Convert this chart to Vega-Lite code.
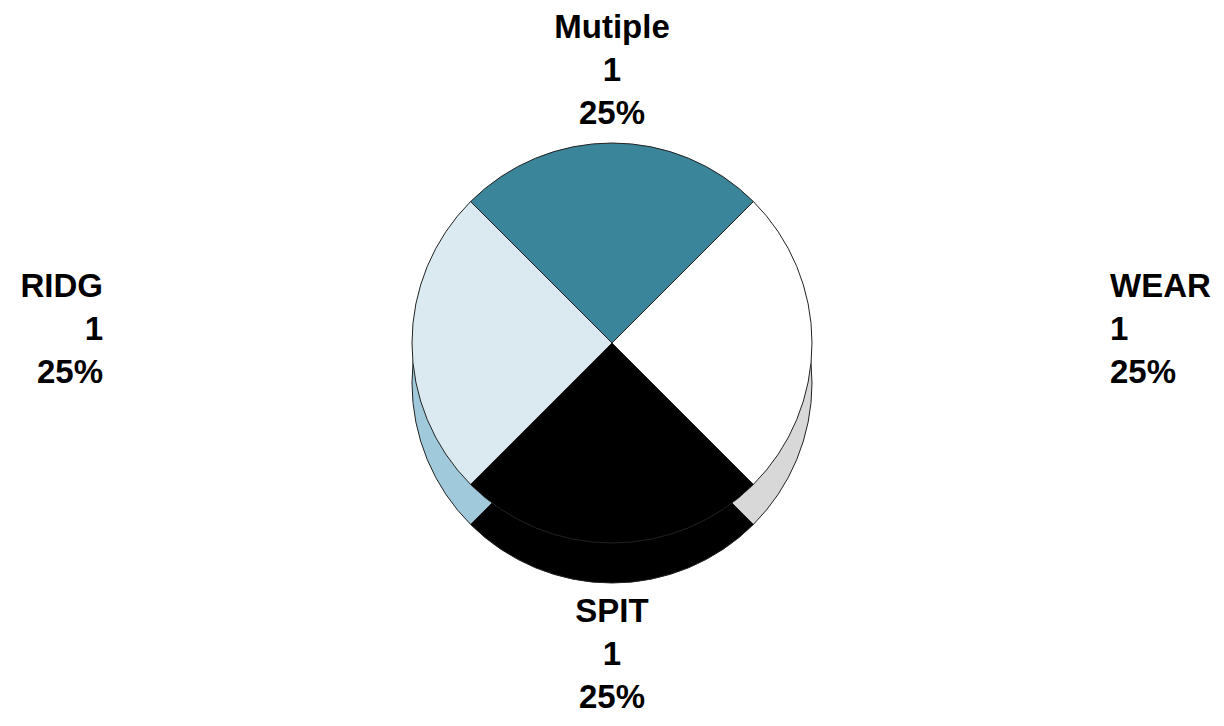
{
  "$schema": "https://vega.github.io/schema/vega-lite/v6.json",
  "width": 1224,
  "height": 726,
  "autosize": "none",
  "padding": 0,
  "background": "white",
  "config": {"view": {"stroke": null}},
  "data": {"values": [
    {"category": "Mutiple", "count": 1, "ord": 1},
    {"category": "WEAR", "count": 1, "ord": 2},
    {"category": "SPIT", "count": 1, "ord": 3},
    {"category": "RIDG", "count": 1, "ord": 4}
  ]},
  "transform": [
    {"joinaggregate": [{"op": "sum", "field": "count", "as": "total"}]},
    {"calculate": "[datum.category, '' + datum.count, format(datum.count / datum.total, '.0%')]", "as": "lbl"}
  ],
  "encoding": {
    "theta": {"field": "count", "type": "quantitative", "stack": true, "scale": {"range": [-0.7853981634, 5.4977871438]}},
    "order": {"field": "ord", "type": "quantitative"}
  },
  "layer": [
    {
      "mark": {"type": "arc", "outerRadius": 200, "yOffset": 20, "stroke": "#222", "strokeWidth": 1},
      "encoding": {
        "color": {"field": "category", "type": "nominal", "legend": null,
          "scale": {"domain": ["Mutiple", "WEAR", "SPIT", "RIDG"], "range": ["#2f6f80", "#D8D8D8", "#000000", "#A0CADB"]}}
      }
    },
    {
      "mark": {"type": "arc", "outerRadius": 200, "yOffset": -20, "stroke": "#222", "strokeWidth": 1},
      "encoding": {
        "fill": {"field": "category", "type": "nominal", "legend": null,
          "scale": {"domain": ["Mutiple", "WEAR", "SPIT", "RIDG"], "range": ["#3A8599", "#FFFFFF", "#000000", "#DAEAF0"]}}
      }
    },
    {
      "mark": {"type": "text", "radius": 292, "dy": -43, "font": "Liberation Sans", "fontWeight": "bold", "fontSize": 33, "lineHeight": 43, "align": "center", "baseline": "middle", "color": "black"},
      "encoding": {
        "text": {"field": "lbl"},
        "opacity": {"condition": {"test": "datum.category == 'Mutiple' || datum.category == 'SPIT'", "value": 1}, "value": 0}
      }
    },
    {
      "mark": {"type": "text", "radius": 509, "dy": -76, "font": "Liberation Sans", "fontWeight": "bold", "fontSize": 33, "lineHeight": 43, "align": "right", "baseline": "middle", "color": "black"},
      "encoding": {
        "text": {"field": "lbl"},
        "opacity": {"condition": {"test": "datum.category == 'RIDG'", "value": 1}, "value": 0}
      }
    },
    {
      "mark": {"type": "text", "radius": 498, "dy": -76, "font": "Liberation Sans", "fontWeight": "bold", "fontSize": 33, "lineHeight": 43, "align": "left", "baseline": "middle", "color": "black"},
      "encoding": {
        "text": {"field": "lbl"},
        "opacity": {"condition": {"test": "datum.category == 'WEAR'", "value": 1}, "value": 0}
      }
    }
  ],
  "resolve": {"scale": {"color": "independent", "fill": "independent"}}
}
